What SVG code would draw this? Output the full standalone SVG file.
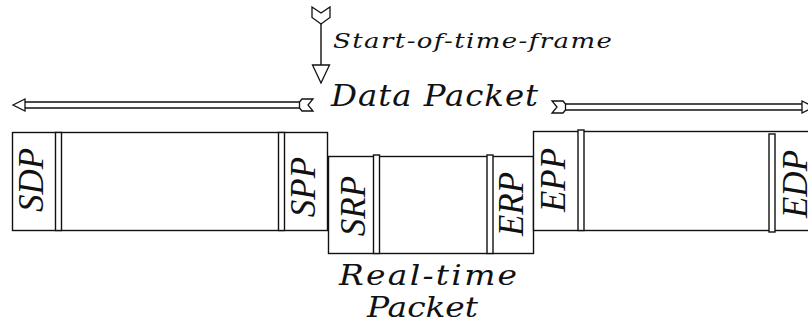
<svg xmlns="http://www.w3.org/2000/svg" width="808" height="327" viewBox="0 0 808 327">
  <style>
    .ln { fill: none; stroke: #111; stroke-width: 1.4; }
    .box { fill: #fff; stroke: #111; stroke-width: 1.4; }
    .bar { fill: #fff; stroke: #111; stroke-width: 1.4; }
    .hd { fill: #fff; stroke: #111; stroke-width: 1.3; stroke-linejoin: miter; }
    .t { font-family: "DejaVu Serif", "Liberation Serif", serif; font-style: italic; fill: #111; }
    .lab { font-family: "Liberation Serif", "DejaVu Serif", serif; font-style: italic; font-size: 35px; fill: #111; text-anchor: middle; }
  </style>

  <!-- data packet: leading block -->
  <g id="data-head">
    <rect class="box" x="12.5" y="132.5" width="315" height="98"/>
    <rect class="bar" x="55.5" y="132.5" width="6" height="98"/>
    <rect class="bar" x="278.5" y="132.5" width="6" height="98"/>
    <text class="lab" transform="translate(43,180) rotate(-90)">SDP</text>
    <text class="lab" transform="translate(315,187) rotate(-90)">SPP</text>
  </g>

  <!-- real-time packet -->
  <g id="realtime-packet">
    <rect class="box" x="328.5" y="156.5" width="205" height="97"/>
    <rect class="bar" x="373.5" y="155" width="6" height="98.5"/>
    <rect class="bar" x="487" y="155" width="6" height="98.5"/>
    <text class="lab" transform="translate(365,206) rotate(-90)">SRP</text>
    <text class="lab" transform="translate(523,204) rotate(-90)">ERP</text>
    <!-- caption glyphs are drawn wide: horizontal stretch -->
    <text class="t" font-size="27" transform="translate(339,285) scale(1.22,1)" textLength="146" lengthAdjust="spacing">Real-time</text>
    <text class="t" font-size="27" transform="translate(367,317) scale(1.22,1)" textLength="91" lengthAdjust="spacing">Packet</text>
  </g>

  <!-- data packet: trailing block -->
  <g id="data-tail">
    <rect class="box" x="533.5" y="131.5" width="290" height="99"/>
    <rect class="bar" x="578" y="130" width="6" height="100.5"/>
    <rect class="bar" x="769" y="134" width="6" height="98"/>
    <text class="lab" transform="translate(565,180) rotate(-90)">EPP</text>
    <text class="lab" transform="translate(807,184) rotate(-90)">EDP</text>
  </g>

  <!-- labels -->
  <g id="frame-label">
    <text class="t" font-size="20" transform="translate(333,48) scale(1.3,1)" textLength="214.6" lengthAdjust="spacing">Start-of-time-frame</text>
  </g>
  <g id="data-label">
    <text class="t" font-size="30" transform="translate(331,106) scale(1.08,1)" textLength="191.7" lengthAdjust="spacing">Data  Packet</text>
  </g>

  <!-- connectors -->
  <g id="connectors">
    <!-- start-of-time-frame marker -->
    <line class="ln" x1="321" y1="23" x2="321" y2="65"/>
    <polygon class="hd" points="312,7 321,13 330,7 330,17.5 321,24 312,17.5"/>
    <polygon class="hd" points="312.5,65 329.5,65 321,83"/>

    <!-- leftward span arrow -->
    <line class="ln" x1="25" y1="102" x2="300" y2="102"/>
    <line class="ln" x1="25" y1="108" x2="300" y2="108"/>
    <polygon class="hd" points="13,105 25,99 25,102 25,108 25,111"/>
    <polygon class="hd" points="299.5,102 302,99 313,99 308,105 313,111 302,111 299.5,108"/>

    <!-- rightward span arrow -->
    <line class="ln" x1="564" y1="104" x2="802" y2="104"/>
    <line class="ln" x1="564" y1="110" x2="802" y2="110"/>
    <polygon class="hd" points="565.5,104 563,101 552,101 557,107 552,113 563,113 565.5,110"/>
    <polygon class="hd" points="814,107 802,101 802,113"/>
  </g>
</svg>
